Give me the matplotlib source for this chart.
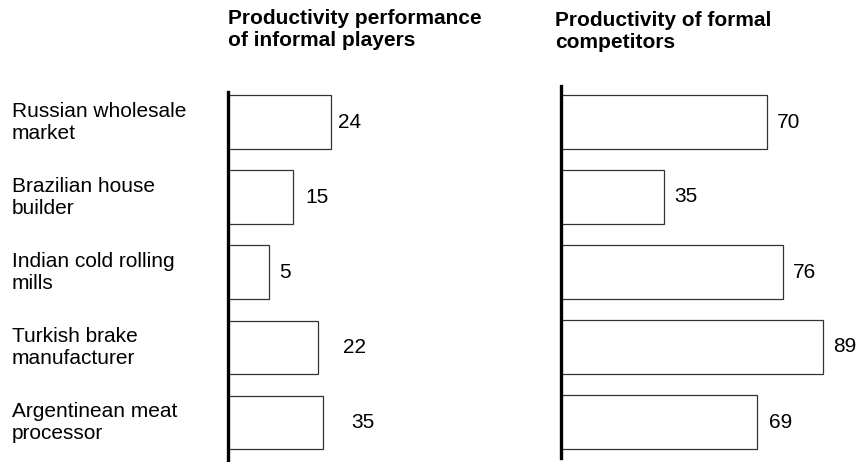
import matplotlib.pyplot as plt
from matplotlib.transforms import blended_transform_factory

plt.rcParams['font.family'] = ['Liberation Sans', 'DejaVu Sans']

# data
categories = ["Russian wholesale\nmarket", "Brazilian house\nbuilder",
              "Indian cold rolling\nmills", "Turkish brake\nmanufacturer",
              "Argentinean meat\nprocessor"]
informal_values = [24, 15, 5, 22, 35]
formal_values = [70, 35, 76, 89, 69]
# bar lengths as drawn in the source chart (it is not drawn to scale)
informal_bars = [24, 15, 9.5, 21, 22]
formal_bars = [70, 35, 75.5, 89, 66.5]
titles = ["Productivity performance\nof informal players",
          "Productivity of formal\ncompetitors"]

W, H = 857, 462
fig = plt.figure(figsize=(W / 100, H / 100), dpi=100)

fs = 15
ypos = list(range(len(categories)))

# left panel: axis x=228px, top 92px, bottom 462px
ax1 = fig.add_axes([228 / W, 0 / H, 250 / W, 370 / H])
ax1.set_xlim(0, 250 / 4.3)
ax1.set_ylim(4.53, -0.4)
# right panel: axis x=561px, top 86px, bottom 458px
ax2 = fig.add_axes([561 / W, 4 / H, 296 / W, 372 / H])
ax2.set_xlim(0, 296 / 2.94)
ax2.set_ylim(4.48, -0.48)

label_off_left = [7, 13, 10, 25, 29]
label_off_right = [10, 10, 10, 10, 12]

for ax, bars, vals, offs in [(ax1, informal_bars, informal_values, label_off_left),
                             (ax2, formal_bars, formal_values, label_off_right)]:
    ax.barh(ypos, bars, height=0.71, color='white', edgecolor='#333333',
            linewidth=0.9, zorder=2)
    for y, b, v, o in zip(ypos, bars, vals, offs):
        ax.annotate(str(v), xy=(b, y), xytext=(o * 0.72, 0),
                    textcoords='offset points', ha='left', va='center',
                    fontsize=fs, color='black')
    for s in ['top', 'right', 'bottom']:
        ax.spines[s].set_visible(False)
    ax.spines['left'].set_linewidth(2.4)
    ax.spines['left'].set_zorder(3)
    ax.set_xticks([])
    ax.set_yticks([])
    ax.patch.set_alpha(0)

# category labels
tr = blended_transform_factory(fig.transFigure, ax1.transData)
for y, c in zip(ypos, categories):
    ax1.text(12 / W, y, c, transform=tr, ha='left', va='center',
             fontsize=fs, linespacing=1.2, clip_on=False)

# panel titles
fig.text(228 / W, 1 - 9 / H, titles[0], ha='left', va='top',
         fontsize=fs, fontweight='bold', linespacing=1.22)
fig.text(555 / W, 1 - 11 / H, titles[1], ha='left', va='top',
         fontsize=fs, fontweight='bold', linespacing=1.22)

fig.savefig('out.png', dpi=100)
